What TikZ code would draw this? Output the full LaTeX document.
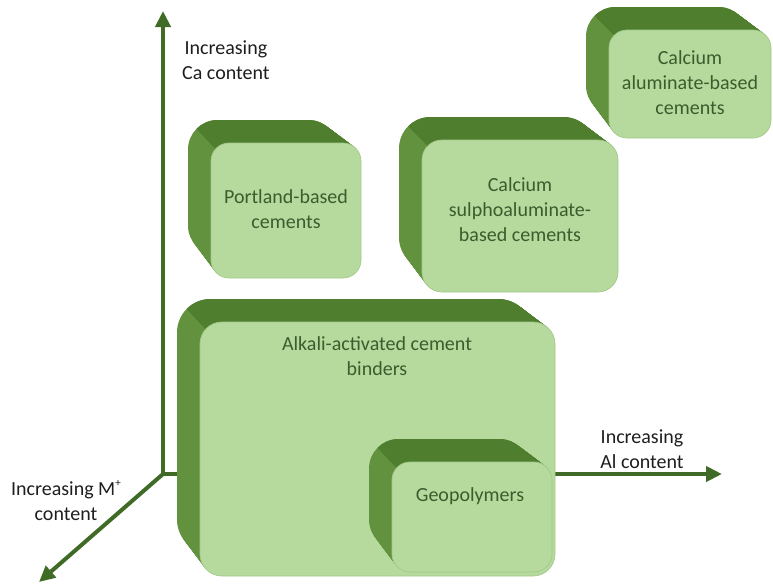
\documentclass[tikz,border=0pt]{standalone}
\usepackage{fontspec}
\setmainfont{Carlito}
\usetikzlibrary{arrows.meta}

\definecolor{axisgreen}{HTML}{3F6B27}
\definecolor{faceleft}{HTML}{62923E}
\definecolor{facetop}{HTML}{4F7F2E}
\definecolor{frontfill}{HTML}{B6D99E}
\definecolor{frontedge}{HTML}{A4CA8A}
\definecolor{boxtext}{HTML}{3B5C2C}
\definecolor{labeltext}{HTML}{1E1E1E}

\tikzset{
  axisarrow/.style={draw=axisgreen, line width=4pt, -{Triangle[length=16pt,width=15pt]}},
  axislabel/.style={text=labeltext, align=center, inner sep=0pt,
    font=\fontsize{20}{25}\selectfont},
  boxlabel/.style={text=boxtext, align=center, inner sep=0pt,
    font=\fontsize{20}{25}\selectfont},
  frontface/.style={fill=frontfill, draw=frontedge, line width=0.7pt, inner sep=0pt},
}

% Extruded rounded slab: #1 name, (#2,#3)-(#4,#5) front face, #6 corner radius.
% The extrusion is swept towards the upper left; its corners widen towards the back.
\newcommand\slab[6]{%
  \foreach \s in {1,...,23}{%
    \fill[faceleft, rounded corners={(#6+0.5*\s)*1pt}]
      ({#2-\s},{#3-\s}) rectangle ({#4-\s},{#5-\s});}
  \begin{scope}
    \clip ({#2-100},{#3-100}) -- ({#2+500},{#3+500}) -- ({#2+1000},{#3-100}) -- cycle;
    \foreach \s in {1,...,23}{%
      \fill[facetop, rounded corners={(#6+0.5*\s)*1pt}]
        ({#2-\s},{#3-\s}) rectangle ({#4-\s},{#5-\s});}
  \end{scope}
  \node[frontface, rounded corners=#6pt, minimum width={#4pt-#2pt}, minimum height={#5pt-#3pt}]
    (#1) at ({(#2+#4)/2},{(#3+#5)/2}) {};
}

\begin{document}
\begin{tikzpicture}[x=1pt, y=-1pt]
  \useasboundingbox (0,0) rectangle (773,587);

  % axes
  \coordinate (origin) at (163,474);
  \coordinate (catip) at (163,11);
  \coordinate (altip) at (722,474);
  \coordinate (mtip) at (39,582);
  \draw[axisarrow] (origin) -- (catip);
  \draw[axisarrow] (origin) -- (altip);
  \draw[axisarrow] (origin) -- (mtip);

  \node[axislabel, anchor=west] (calabel) at (182,60) {Increasing\\Ca content};
  \node[axislabel] (allabel) at (642,449) {Increasing\\Al content};
  \node[axislabel] (mlabel) at (66,501) {Increasing M\raisebox{0.45em}{\fontsize{11}{11}\selectfont +}\\content};

  % cement families
  \slab{portland}{211}{143}{361}{278}{18}
  \node[boxlabel] (portlandtext) at (286,209) {Portland-based\\cements};

  \slab{csa}{422}{140}{618}{292}{20}
  \node[boxlabel] (csatext) at (520,210) {Calcium\\sulphoaluminate-\\based cements};

  \slab{cac}{609}{30}{771}{138}{18}
  \node[boxlabel] (cactext) at (690,83) {Calcium\\aluminate-based\\cements};

  \slab{aac}{200}{322}{555}{576}{22}
  \node[boxlabel] (aactext) at (377,356) {Alkali-activated cement\\binders};

  \slab{geo}{392}{462}{552}{572}{18}
  \node[boxlabel] (geotext) at (470,496) {Geopolymers};
\end{tikzpicture}
\end{document}
